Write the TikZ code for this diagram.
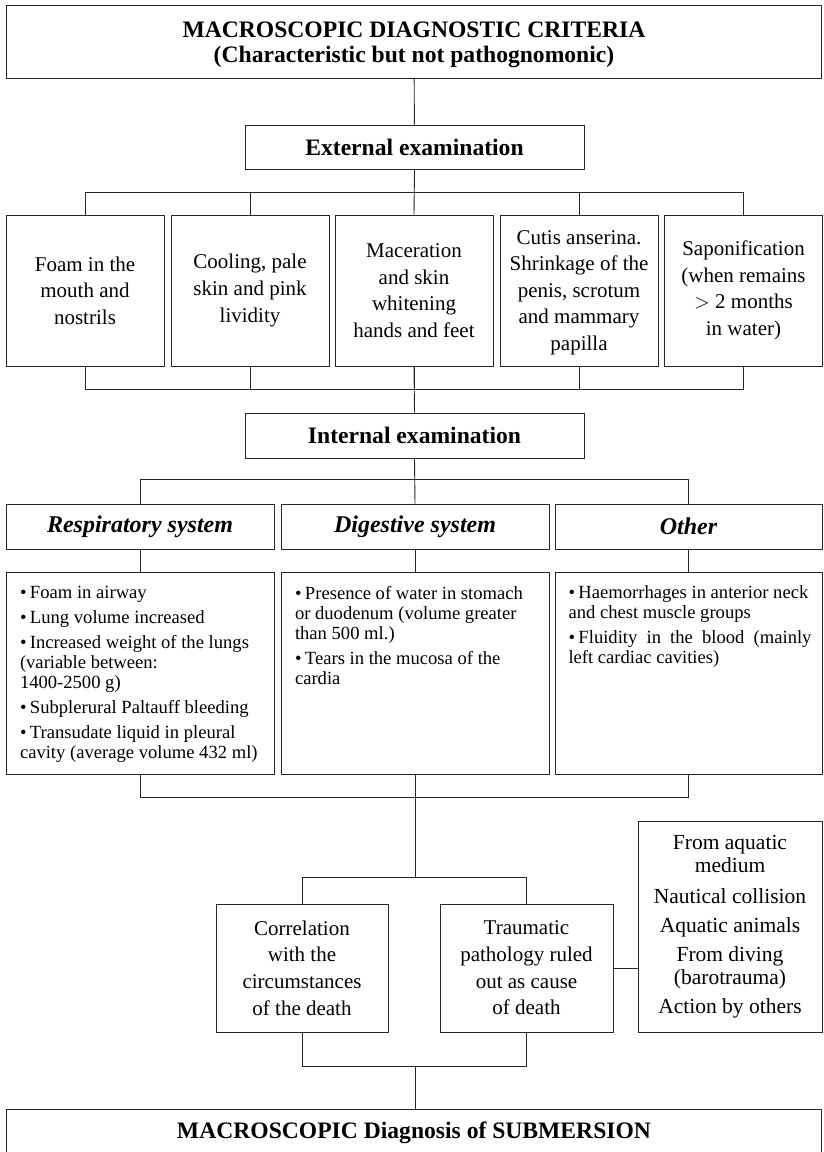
\documentclass[tikz,border=0pt]{standalone}
\usepackage{fontspec}
\setmainfont{Liberation Serif}
\usepackage{tikz}

\tikzset{
  box/.style={draw=black!85, line width=0.9pt, align=center, inner sep=0pt},
  ttl/.style={box, font=\fontsize{23.6}{25}\selectfont\bfseries},
  sys/.style={box, font=\fontsize{24}{26}\selectfont\bfseries\itshape,
    minimum width=268pt, minimum height=45pt},
  item/.style={box, font=\fontsize{21}{26.6}\selectfont,
    minimum width=158pt, minimum height=151pt},
  list/.style={box, inner xsep=14pt, inner ysep=6pt, anchor=north},
  wire/.style={draw=black!85, line width=0.9pt}
}
% bullet list inside the organ boxes
\newcommand{\bul}[1]{\par\hangindent=10pt\hangafter=1\noindent
  \makebox[10pt][l]{\textbullet}#1\par\vspace{5pt}}
\newcommand{\listbox}[1]{\parbox[c][190pt][t]{240pt}{%
  \fontsize{18.6}{20}\selectfont\raggedright\vspace*{7.5pt}#1}}

\begin{document}
\begin{tikzpicture}[x=1pt, y=-1pt]
  \clip (0,0) rectangle (823,1152);
  \fill[white] (0,0) rectangle (823,1152);

  \node[ttl, minimum width=815pt, minimum height=73pt] (top) at (414,41.5)
    {\rule{0pt}{22pt}MACROSCOPIC DIAGNOSTIC CRITERIA\\(Characteristic but not pathognomonic)};
  \node[ttl, minimum width=339pt, minimum height=44pt] (ext) at (414.5,147)
    {External examination};

  % external findings
  \node[item] (e1) at (85,290.5) {Foam in the\\mouth and\\nostrils};
  \node[item] (e2) at (250,290.5) {Cooling, pale\\skin and pink\\lividity};
  \node[item] (e3) at (414,290.5) {Maceration\\and skin\\whitening\\hands and feet};
  \node[item] (e4) at (579,290.5) {\rule{0pt}{18pt}Cutis anserina.\\Shrinkage of the\\penis, scrotum\\and mammary\\papilla};
  \node[item] (e5) at (743.5,290.5) {Saponification\\(when remains\\$>$ 2 months\\in water)};

  \node[ttl, minimum width=339pt, minimum height=45pt] (int) at (414.5,435.5)
    {Internal examination};

  % internal findings
  \node[sys] (resp) at (140,526.5) {Respiratory system};
  \node[sys] (dig) at (415,526.5) {Digestive system};
  \node[sys, minimum width=267pt] (oth) at (688.5,526.5) {Other};

  \node[list] (respl) at (140,572) {\listbox{%
    \bul{Foam in airway}
    \bul{Lung volume increased}
    \bul{Increased weight of the lungs\\(variable between:\\1400-2500 g)}
    \bul{Subplerural Paltauff bleeding}
    \bul{Transudate liquid in pleural\\cavity (average volume 432 ml)}}};
  \node[list] (digl) at (415,572) {\listbox{%
    \bul{Presence of water in stomach\\or duodenum (volume greater\\than 500 ml.)}
    \bul{Tears in the mucosa of the\\cardia}}};
  \node[list, inner xsep=13.5pt] (othl) at (688.5,572) {\listbox{%
    \bul{Haemorrhages in anterior neck\\and chest muscle groups}
    \bul{\makebox[233pt][s]{Fluidity in the blood (mainly}\\left cardiac cavities)}}};

  % final checks
  \node[box, font=\fontsize{21}{26.7}\selectfont, minimum width=172pt,
    minimum height=128pt] (corr) at (302,968)
    {Correlation\\with the\\circumstances\\of the death};
  \node[box, font=\fontsize{21}{26.7}\selectfont, minimum width=173pt,
    minimum height=128pt] (trau) at (526.5,968)
    {Traumatic\\pathology ruled\\out as cause\\of death};
  \node[box, font=\fontsize{21.5}{23.5}\selectfont, minimum width=184pt,
    minimum height=211pt] (caus) at (730,926.5)
    {From aquatic\\medium\\[7pt]Nautical collision\\[6pt]Aquatic animals\\[5pt]From diving\\(barotrauma)\\[5pt]Action by others};

  \node[ttl, minimum width=815pt, minimum height=47pt, anchor=north] (diag) at (414,1109)
    {MACROSCOPIC Diagnosis of SUBMERSION};

  % connectors
  \draw[wire] (top) -- (ext);
  \draw[wire] (ext.south) -- (e3.north);
  \draw[wire] (e1.north) -- ++(0,-22) -| (e5.north);
  \foreach \b in {e2,e4} \draw[wire] (\b.north) -- ++(0,-22);
  \draw[wire] (e1.south) -- ++(0,23) -| (e5.south);
  \foreach \b in {e2,e3,e4} \draw[wire] (\b.south) -- ++(0,23);
  \draw[wire] (e3.south) -- (int.north);

  \draw[wire] (int.south) -- (dig.north);
  \draw[wire] (resp.north) -- ++(0,-24) -| (oth.north);
  \foreach \b/\l in {resp/respl,dig/digl,oth/othl} \draw[wire] (\b) -- (\l);
  \draw[wire] (respl.south) -- ++(0,23) coordinate (busB) -| (othl.south);
  \draw[wire] (digl.south) -- ++(0,23);

  \draw[wire] (digl.south |- busB) -- ++(0,80) coordinate (busC);
  \draw[wire] (corr.north) |- (busC) -| (trau.north);
  \draw[wire] (trau.east) -- (trau.east -| caus.west);
  \draw[wire] (corr.south) -- ++(0,34) coordinate (busD) -| (trau.south);
  \draw[wire] (diag.north -| busC) -- ++(0,-43);
\end{tikzpicture}
\end{document}
